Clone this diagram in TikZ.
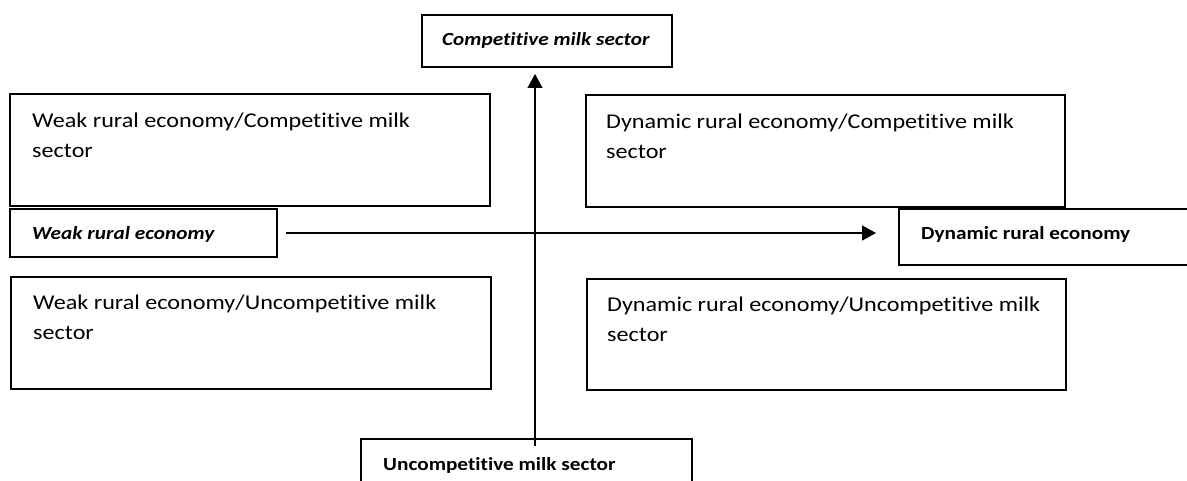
\documentclass[tikz,border=0pt]{standalone}
\usepackage{fontspec}
\setmainfont{Carlito}[FakeStretch=1.15, Ligatures=NoCommon]
\usetikzlibrary{arrows.meta}
\newcommand{\twolines}[2]{\begin{tabular}[t]{@{}l@{}}#1\\#2\end{tabular}}
\tikzset{
  qbox/.style={draw, line width=1.4pt, anchor=north west, inner sep=0pt, outer sep=0pt},
  bigtxt/.style={anchor=base west, inner sep=0pt,
    font=\fontsize{21pt}{29.5pt}\selectfont},
  axlbl/.style={anchor=base west, inner sep=0pt, font=\fontsize{18.5pt}{23pt}\selectfont\bfseries},
  axlbli/.style={axlbl, font=\fontsize{18.5pt}{23pt}\selectfont\bfseries\itshape},
  axarrow/.style={line width=1.3pt, -{Triangle[length=14pt,width=15pt]}}
}
\begin{document}
\begin{tikzpicture}[x=1pt,y=-1pt]
\useasboundingbox (0,0) rectangle (1187,481);
\fill[white] (0,0) rectangle (1187,481);
\clip (0,0) rectangle (1187,481);
% axis label boxes
\node[qbox, minimum width=250pt, minimum height=52pt] (comp) at (422,15) {};
\node[axlbli] (comp-t) at (442,46) {Competitive milk sector};
\node[qbox, minimum width=267pt, minimum height=48pt] (wre) at (10,209) {};
\node[axlbli] (wre-t) at (32,240) {Weak rural economy};
\node[qbox, minimum width=300pt, minimum height=56pt] (dre) at (899,209) {};
\node[axlbl] (dre-t) at (921,240) {Dynamic rural economy};
\node[qbox, minimum width=331pt, minimum height=60pt] (unc) at (361,439) {};
\node[axlbl] (unc-t) at (383,470) {Uncompetitive milk sector};
% quadrant boxes
\node[qbox, minimum width=480pt, minimum height=112pt] (wc) at (10,94) {};
\node[bigtxt] (wc-t) at (32,128) {\twolines{Weak rural economy/Competitive milk}{sector}};
\node[qbox, minimum width=479pt, minimum height=112pt] (dc) at (586,95) {};
\node[bigtxt] (dc-t) at (606,129) {\twolines{Dynamic rural economy/Competitive milk}{sector}};
\node[qbox, minimum width=480pt, minimum height=112pt] (wu) at (11,277) {};
\node[bigtxt] (wu-t) at (33,310) {\twolines{Weak rural economy/Uncompetitive milk}{sector}};
\node[qbox, minimum width=479pt, minimum height=111pt] (du) at (587,279) {};
\node[bigtxt] (du-t) at (607,312) {\twolines{Dynamic rural economy/Uncompetitive milk}{sector}};
% axes
\coordinate (vs) at (535,446);
\draw[axarrow, shorten >=7pt] (vs) -- (vs |- comp.south);
\draw[axarrow, shorten <=9pt, shorten >=23pt] (wre.east) -- (wre.east -| dre.west);
\end{tikzpicture}
\end{document}
